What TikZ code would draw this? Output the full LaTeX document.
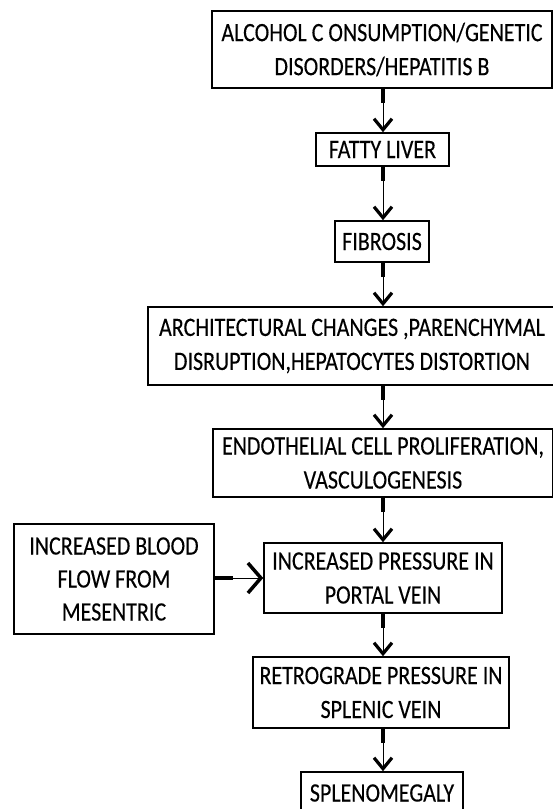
\documentclass[tikz,border=0pt]{standalone}
\usepackage{fontspec}
\setmainfont{Carlito}[FakeStretch=0.83,FakeBold=0.25]
\usetikzlibrary{arrows.meta}
\begin{document}
\begin{tikzpicture}[x=1pt,y=-1pt,
  box/.style={draw, line width=1.5pt, inner sep=0pt, align=center,
    font=\fontsize{26.5}{34}\selectfont},
  stub/.style={line width=4.5pt},
  flow/.style={line width=0.9pt, -{Straight Barb[length=11pt,width=18pt,line width=3.2pt]}},
  sideflow/.style={line width=0.9pt, -{Straight Barb[length=13pt,width=30pt,line width=3.5pt]}}]
\useasboundingbox (0,0) rectangle (552,809);
\coordinate (axis) at (383,0);

\node[box, minimum width=340, minimum height=77] (a) at (382,49.5)
  {ALCOHOL C ONSUMPTION/GENETIC\\DISORDERS/HEPATITIS B};
\node[box, minimum width=133, minimum height=33] (b) at (382.5,149.5) {FATTY LIVER};
\node[box, minimum width=94, minimum height=41] (c) at (382,241.5) {FIBROSIS};
\node[box, minimum width=408, minimum height=78] (d) at (352,346)
  {ARCHITECTURAL CHANGES ,PARENCHYMAL\\DISRUPTION,HEPATOCYTES DISTORTION};
\node[box, minimum width=340, minimum height=68] (e) at (383,463)
  {ENDOTHELIAL CELL PROLIFERATION,\\VASCULOGENESIS};
\node[box, minimum width=238, minimum height=70] (f) at (383,578)
  {INCREASED PRESSURE IN\\PORTAL VEIN};
\node[box, minimum width=200, minimum height=110, font=\fontsize{26.5}{33}\selectfont] (g) at (114,579)
  {INCREASED BLOOD\\FLOW FROM\\MESENTRIC};
\node[box, minimum width=256, minimum height=71] (h) at (381,692.5)
  {RETROGRADE PRESSURE IN\\SPLENIC VEIN};
\node[box, minimum width=162, minimum height=42] (i) at (382,793) {SPLENOMEGALY};

\foreach \s/\t in {a/b, b/c, c/d, d/e, e/f, f/h, h/i} {
  \draw[stub] (axis |- \s.south) -- ++(0,14);
  \draw[flow] (axis |- \s.south) -- (axis |- \t.north);
}
\draw[stub] (g.east |- f.west) -- ++(18,0);
\draw[sideflow] (g.east |- f.west) -- (f.west);
\end{tikzpicture}
\end{document}
